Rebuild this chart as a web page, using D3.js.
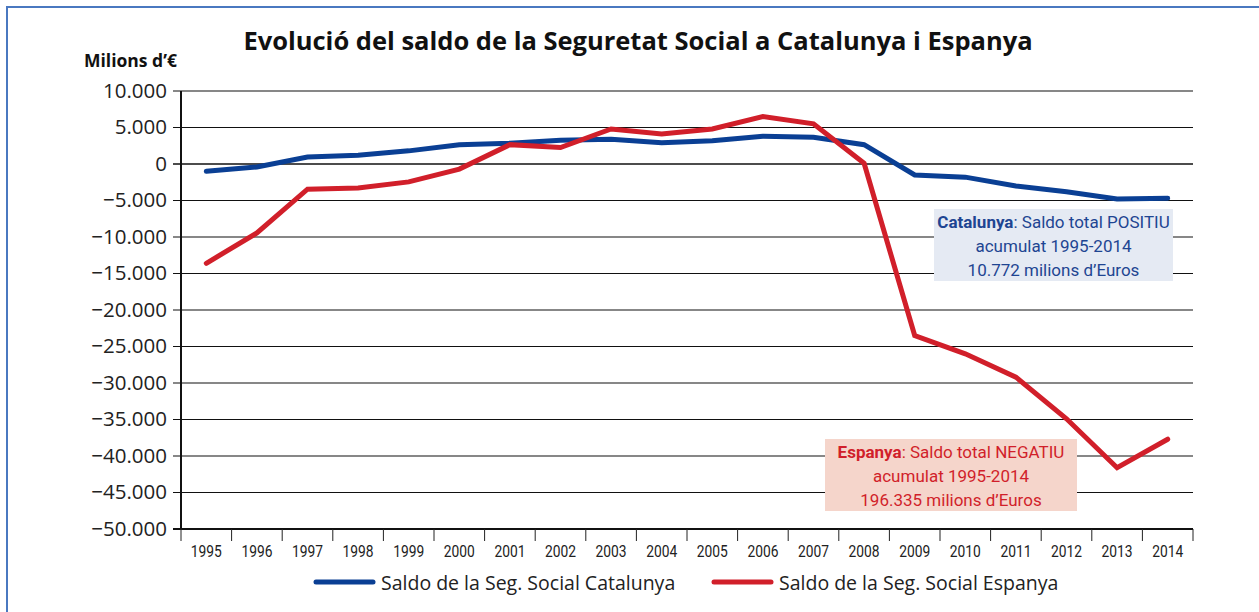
<!DOCTYPE html>
<html>
<head>
<meta charset="utf-8">
<script src="https://cdn.jsdelivr.net/npm/d3@7"></script>
<style>
  body { margin: 0; background: #fff; }
  svg { display: block; }
</style>
</head>
<body>
<div id="chart"></div>
<script>
// years on the x axis
const years = ['1995', '1996', '1997', '1998', '1999', '2000', '2001', '2002', '2003', '2004',
  '2005', '2006', '2007', '2008', '2009', '2010', '2011', '2012', '2013', '2014'];

// saldo Seguretat Social, milions d'euros
const catalunya = [-1000, -400, 950, 1200, 1800, 2650, 2850, 3250, 3400, 2900,
  3200, 3800, 3650, 2650, -1500, -1800, -3000, -3800, -4800, -4700];
const espanya = [-13600, -9450, -3450, -3300, -2450, -700, 2650, 2250, 4800, 4100,
  4800, 6500, 5500, 100, -23500, -26000, -29200, -34900, -41600, -37700];

const yTicks = [10000, 5000, 0, -5000, -10000, -15000, -20000, -25000, -30000,
  -35000, -40000, -45000, -50000];

const seriesNames = ['Saldo de la Seg. Social Catalunya', 'Saldo de la Seg. Social Espanya'];

const W = 1259, H = 612;
const plotLeft = 181, plotRight = 1193, plotTop = 91, plotBottom = 529;
const blue = '#0a3f94', red = '#d11f2a';
const sans = 'Open Sans, Noto Sans, sans-serif';
const narrow = 'Roboto, Noto Sans, sans-serif';

const svg = d3.select('#chart').append('svg')
  .attr('width', W)
  .attr('height', H);

// outer frame (only top/left visible in the crop)
svg.append('rect')
  .attr('x', 7).attr('y', 7)
  .attr('width', W + 20).attr('height', H + 20)
  .attr('fill', 'none')
  .attr('stroke', '#4a78c0')
  .attr('stroke-width', 2);

svg.append('text')
  .attr('x', 638).attr('y', 50)
  .attr('text-anchor', 'middle')
  .attr('font-family', sans)
  .attr('font-weight', 'bold')
  .attr('font-size', 25.5)
  .attr('fill', '#111')
  .text('Evolució del saldo de la Seguretat Social a Catalunya i Espanya');

svg.append('text')
  .attr('x', 84).attr('y', 67)
  .attr('font-family', sans)
  .attr('font-weight', 'bold')
  .attr('font-size', 17.5)
  .attr('fill', '#111')
  .text('Milions d’€');

const x = d3.scaleBand()
  .domain(years)
  .range([plotLeft, plotRight]);

const y = d3.scaleLinear()
  .domain([-50000, 10000])
  .range([plotBottom, plotTop]);

const fmt = v => {
  const s = d3.format(',')(Math.abs(v)).replace(/,/g, '.');
  return v < 0 ? '\u2212' + s : s;
};

// horizontal gridlines
svg.append('g')
  .selectAll('line')
  .data(yTicks.filter(d => d !== -50000))
  .enter()
  .append('line')
  .attr('x1', plotLeft - 8)
  .attr('x2', plotRight)
  .attr('y1', d => y(d))
  .attr('y2', d => y(d))
  .attr('stroke', '#111')
  .attr('stroke-width', d => d === 0 ? 1.6 : 1.1);

// y labels
svg.append('g')
  .selectAll('text')
  .data(yTicks)
  .enter()
  .append('text')
  .attr('x', 167)
  .attr('y', d => y(d) + 6.5)
  .attr('text-anchor', 'end')
  .attr('font-family', sans)
  .attr('font-size', 20.5)
  .attr('fill', '#222')
  .text(fmt);

// axes lines
svg.append('line')
  .attr('x1', plotLeft).attr('x2', plotLeft)
  .attr('y1', plotTop).attr('y2', plotBottom)
  .attr('stroke', '#111').attr('stroke-width', 2);

svg.append('line')
  .attr('x1', plotLeft - 8).attr('x2', plotRight)
  .attr('y1', plotBottom).attr('y2', plotBottom)
  .attr('stroke', '#111').attr('stroke-width', 2.2);

// x ticks at category boundaries
const bounds = years.map(d => x(d)).concat([plotRight]);
svg.append('g')
  .selectAll('line')
  .data(bounds)
  .enter()
  .append('line')
  .attr('x1', d => d).attr('x2', d => d)
  .attr('y1', plotBottom).attr('y2', plotBottom + 12)
  .attr('stroke', '#222').attr('stroke-width', 1);

svg.append('g')
  .selectAll('text')
  .data(years)
  .enter()
  .append('text')
  .attr('x', d => x(d) + x.bandwidth() / 2)
  .attr('y', plotBottom + 28)
  .attr('text-anchor', 'middle')
  .attr('font-family', narrow)
  .attr('font-size', 16.5)
  .attr('textLength', 31)
  .attr('lengthAdjust', 'spacingAndGlyphs')
  .attr('fill', '#222')
  .text(d => d);

const line = d3.line()
  .x((d, i) => x(years[i]) + x.bandwidth() / 2)
  .y(d => y(d));

svg.append('path')
  .datum(catalunya)
  .attr('fill', 'none')
  .attr('stroke', blue)
  .attr('stroke-width', 5)
  .attr('stroke-linecap', 'round')
  .attr('d', line);

svg.append('path')
  .datum(espanya)
  .attr('fill', 'none')
  .attr('stroke', red)
  .attr('stroke-width', 5)
  .attr('stroke-linecap', 'round')
  .attr('d', line);

// annotation boxes
function note(bx, by, bw, bh, fill, color, bold, rest, lines) {
  svg.append('rect')
    .attr('x', bx).attr('y', by)
    .attr('width', bw).attr('height', bh)
    .attr('fill', fill);
  const cx = bx + bw / 2;
  const t = svg.append('text')
    .attr('x', cx).attr('y', by + 19)
    .attr('text-anchor', 'middle')
    .attr('font-family', narrow)
    .attr('font-size', 17)
    .attr('fill', color);
  t.append('tspan').attr('font-weight', 'bold').text(bold);
  t.append('tspan').text(rest);
  lines.forEach((l, i) => {
    svg.append('text')
      .attr('x', cx).attr('y', by + 43 + i * 24)
      .attr('text-anchor', 'middle')
      .attr('font-family', narrow)
      .attr('font-size', 17)
      .attr('fill', color)
      .text(l);
  });
}

note(934, 209, 239, 72, '#e5eaf3', '#1e4592', 'Catalunya', ': Saldo total POSITIU',
  ['acumulat 1995-2014', '10.772 milions d’Euros']);
note(825, 439, 252, 72, '#f5d5cb', '#d11f2a', 'Espanya', ': Saldo total NEGATIU',
  ['acumulat 1995-2014', '196.335 milions d’Euros']);

// legend
const legend = svg.append('g');
const lx = [316, 714];
[blue, red].forEach((c, i) => {
  legend.append('line')
    .attr('x1', lx[i]).attr('x2', lx[i] + 57)
    .attr('y1', 582).attr('y2', 582)
    .attr('stroke', c).attr('stroke-width', 5)
    .attr('stroke-linecap', 'round');
  legend.append('text')
    .attr('x', lx[i] + 65).attr('y', 590)
    .attr('font-family', sans)
    .attr('font-size', 19.5)
    .attr('fill', '#222')
    .text(seriesNames[i]);
});
</script>
</body>
</html>
